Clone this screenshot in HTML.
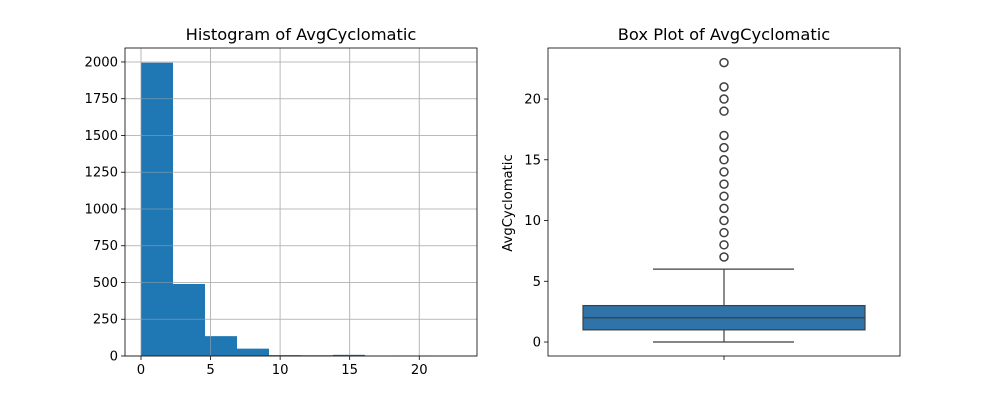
<!DOCTYPE html>
<html><head><meta charset="utf-8"><style>
body{margin:0;background:#fff;}
svg text{font-family:"DejaVu Sans","Liberation Sans",sans-serif;fill:#000;}
</style></head><body>
<svg id="c" width="1000" height="400" xmlns="http://www.w3.org/2000/svg"></svg>
<script>
const histEdges=[0,2.3,4.6,6.9,9.2,11.5,13.8,16.1,18.4,20.7,23];
const histCounts=[1995,490,135,50,6,5,8,2,3,1];
const histXTicks=[0,5,10,15,20];
const histYTicks=[0,250,500,750,1000,1250,1500,1750,2000];
const boxStats=[0,1,2,3,6];
const outliers=[7,8,9,10,11,12,13,14,15,16,17,19,20,21,23];
const boxYTicks=[0,5,10,15,20];

const NS="http://www.w3.org/2000/svg";
const svg=document.getElementById('c');
function mk(t,a,p){const e=document.createElementNS(NS,t);for(const k in a)e.setAttribute(k,a[k]);(p||svg).appendChild(e);return e;}
const FS=13.2, TS=16.3;

// Histogram
const L={x0:125,x1:477,y0:356,y1:48};
const hx=v=>L.x0+(v+1.15)/(24.15+1.15)*(L.x1-L.x0);
const hy=v=>L.y0-v/2095*(L.y0-L.y1);
const g1=mk('g',{});


histXTicks.forEach(t=>{const X=hx(t);
 const gl=mk('line',{x1:X,x2:X,y1:L.y1,y2:L.y0,stroke:'#b0b0b0','stroke-width':0.8},g1);
 
 mk('line',{x1:X,x2:X,y1:L.y0,y2:L.y0+4,stroke:'#000','stroke-width':0.8},g1);
 const tx=mk('text',{x:X,y:L.y0+18,'text-anchor':'middle','font-size':FS},g1);tx.textContent=t;
 });
histYTicks.forEach(t=>{const Y=hy(t);
 const gl=mk('line',{x1:L.x0,x2:L.x1,y1:Y,y2:Y,stroke:'#b0b0b0','stroke-width':0.8},g1);
 
 mk('line',{x1:L.x0-4,x2:L.x0,y1:Y,y2:Y,stroke:'#000','stroke-width':0.8},g1);
 const tx=mk('text',{x:L.x0-7,y:Y+4.5,'text-anchor':'end','font-size':FS},g1);tx.textContent=t;
 });
histCounts.forEach((c,i)=>{const a=hx(histEdges[i]),b=hx(histEdges[i+1]);
 const r=mk('rect',{x:a,y:hy(c),width:b-a,height:L.y0-hy(c),fill:'#1f77b4'},g1);
 });
histYTicks.forEach(t=>{const Y=hy(t);mk('line',{x1:L.x0,x2:L.x1,y1:Y,y2:Y,stroke:'#b0b0b0','stroke-width':0.8,opacity:0.6},g1);});
histXTicks.forEach(t=>{const X=hx(t);mk('line',{x1:X,x2:X,y1:L.y1,y2:L.y0,stroke:'#b0b0b0','stroke-width':0.8,opacity:0.6},g1);});
mk('rect',{x:L.x0,y:L.y1,width:L.x1-L.x0,height:L.y0-L.y1,fill:'none',stroke:'#000','stroke-width':0.8},g1);
const t1=mk('text',{x:(L.x0+L.x1)/2,y:40,'text-anchor':'middle','font-size':TS},g1);t1.textContent='Histogram of AvgCyclomatic';


// Box plot
const R={x0:548,x1:900,y0:356,y1:48};
const by=v=>R.y0-(v+1.15)/(24.2+1.15)*(R.y0-R.y1);
const g2=mk('g',{});


boxYTicks.forEach(t=>{const Y=by(t);
 mk('line',{x1:R.x0-4,x2:R.x0,y1:Y,y2:Y,stroke:'#000','stroke-width':0.8},g2);
 const tx=mk('text',{x:R.x0-7,y:Y+4.5,'text-anchor':'end','font-size':FS},g2);tx.textContent=t;
 });
const cx=724;
mk('line',{x1:cx,x2:cx,y1:R.y0,y2:R.y0+4,stroke:'#000','stroke-width':0.8},g2);
const ws=[[boxStats[0],boxStats[1]],[boxStats[3],boxStats[4]]];
ws.forEach(w=>{const l=mk('line',{x1:cx,x2:cx,y1:by(w[0]),y2:by(w[1]),stroke:'#3f3f3f','stroke-width':1.2},g2);
 });
[boxStats[0],boxStats[4]].forEach(v=>{const l=mk('line',{x1:653,x2:794,y1:by(v),y2:by(v),stroke:'#3f3f3f','stroke-width':1.2},g2);
 });
const bx=mk('rect',{x:583,y:by(boxStats[3]),width:282,height:by(boxStats[1])-by(boxStats[3]),fill:'#2f73a8',stroke:'#3f3f3f','stroke-width':1.2},g2);

const md=mk('line',{x1:583,x2:865,y1:by(boxStats[2]),y2:by(boxStats[2]),stroke:'#3f3f3f','stroke-width':1.2},g2);

outliers.forEach(v=>{const c=mk('circle',{cx:cx,cy:by(v),r:4,fill:'none',stroke:'#3f3f3f','stroke-width':1.5},g2);
 });
mk('rect',{x:R.x0,y:R.y1,width:R.x1-R.x0,height:R.y0-R.y1,fill:'none',stroke:'#000','stroke-width':0.8},g2);
const t2=mk('text',{x:(R.x0+R.x1)/2,y:40,'text-anchor':'middle','font-size':TS},g2);t2.textContent='Box Plot of AvgCyclomatic';

const yl=mk('text',{x:0,y:0,'text-anchor':'middle','font-size':FS,transform:'translate(512,203) rotate(-90)'},g2);yl.textContent='AvgCyclomatic';

</script>
</body></html>
